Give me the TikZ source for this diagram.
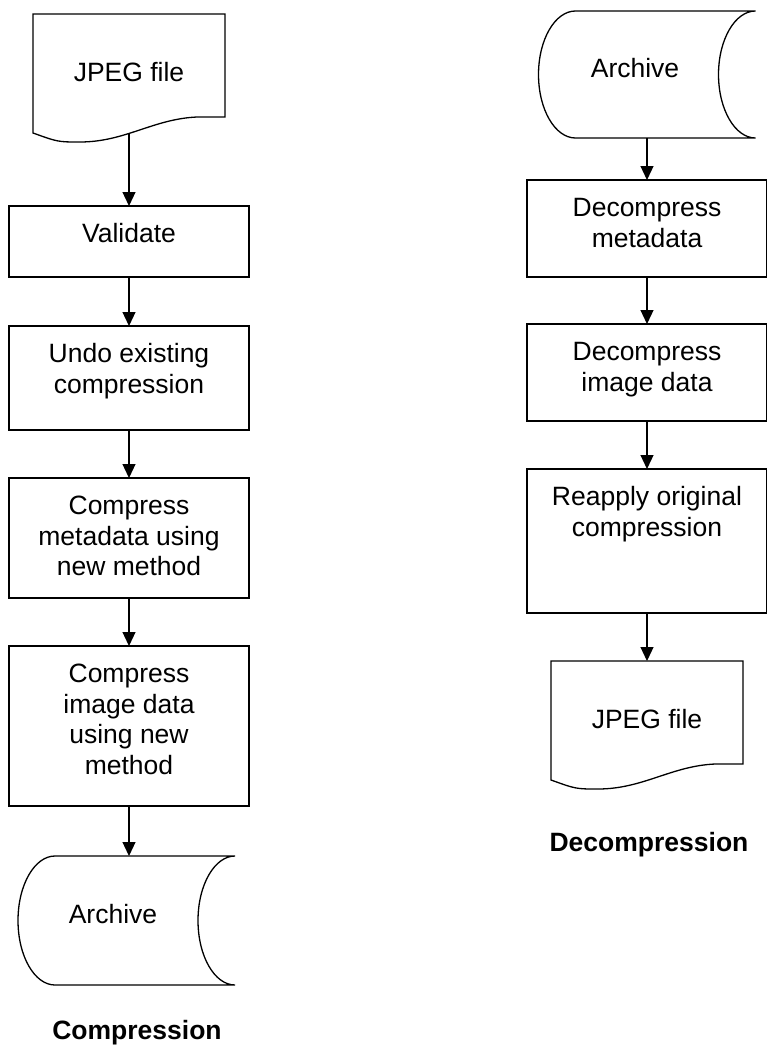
\documentclass[tikz,border=0pt]{standalone}
\usepackage{fontspec}
\setmainfont{Liberation Sans}
\usetikzlibrary{arrows.meta,calc}
\newcommand{\docpath}[1]{%
  \draw (#1.north west) -- (#1.north east) -- ($(#1.north west)+(192,103)$)
    -- ($(#1.north west)+(164,103)$)
    .. controls ($(#1.north west)+(120,105)$) and ($(#1.north west)+(92,128)$) .. ($(#1.north west)+(47,128)$)
    .. controls ($(#1.north west)+(25,128)$) .. ($(#1.north west)+(0,119)$) -- cycle;}
\newcommand{\archpath}[2]{%
  \draw ($(#1.north west)+(37,0)$) arc[start angle=90, end angle=270, x radius=37pt, y radius=#2pt]
    -- (#1.south east) arc[start angle=270, end angle=90, x radius=37pt, y radius=#2pt] -- cycle;}
\begin{document}
\begin{tikzpicture}[x=1pt,y=-1pt,
  line width=1.3pt,
  every node/.style={inner sep=0pt, outer sep=0pt},
  stepbox/.style={draw, rectangle, minimum width=240pt},
  shapebox/.style={rectangle, draw=none},
  txt/.style={font=\fontsize{26.5}{30.5}\selectfont, align=center, anchor=base},
  ttl/.style={font=\fontsize{26.5}{30.5}\selectfont\bfseries, anchor=base},
  arr/.style={-{Triangle[width=13pt,length=14pt]}, line width=1.2pt}
]
\useasboundingbox (0,0) rectangle (766,1046);

% ---------- Compression ----------
\node[shapebox, minimum width=192pt, minimum height=119pt] (doc1) at (129,73.5) {};
\docpath{doc1}
\node[txt] (doc1t) at (129,81.5) {JPEG file};

\node[stepbox, minimum height=71pt] (val) at (129,241.5) {};
\node[txt] (valt) at (129,242.5) {Validate};

\node[stepbox, minimum height=104pt] (undo) at (129,378) {};
\node[txt] (undot) at (129,393) {Undo existing\\compression};

\node[stepbox, minimum height=120pt] (cmeta) at (129,538) {};
\node[txt] (cmetat) at (129,575.5) {Compress\\metadata using\\new method};

\node[stepbox, minimum height=160pt] (cimg) at (129,726) {};
\node[txt] (cimgt) at (129,774) {Compress\\image data\\using new\\method};

\node[shapebox, minimum width=217pt, minimum height=129pt] (arch1) at (126.5,920.5) {};
\archpath{arch1}{64.5}
\node[txt] (arch1t) at (113,923.5) {Archive};

\node[ttl] (comp) at (137,1039) {Compression};

\draw[arr] (doc1.south) -- (val.north);
\draw[arr] (val.south) -- (undo.north);
\draw[arr] (undo.south) -- (cmeta.north);
\draw[arr] (cmeta.south) -- (cimg.north);
\draw[arr] (cimg.south) -- (cimg.south |- arch1.north);

% ---------- Decompression ----------
\node[shapebox, minimum width=217pt, minimum height=127pt] (arch2) at (647,74.5) {};
\archpath{arch2}{63.5}
\node[txt] (arch2t) at (635,77.5) {Archive};

\node[stepbox, minimum height=97pt] (dmeta) at (647,228.5) {};
\node[txt] (dmetat) at (647,247) {Decompress\\metadata};

\node[stepbox, minimum height=97pt] (dimg) at (647,372.5) {};
\node[txt] (dimgt) at (647,391) {Decompress\\image data};

\node[stepbox, minimum height=144pt] (reap) at (647,541) {};
\node[txt] (reapt) at (647,536) {Reapply original\\compression};

\node[shapebox, minimum width=192pt, minimum height=119pt] (doc2) at (647,720.5) {};
\docpath{doc2}
\node[txt] (doc2t) at (647,728.5) {JPEG file};

\node[ttl] (decomp) at (649,851) {Decompression};

\draw[arr] (arch2.south) -- (dmeta.north);
\draw[arr] (dmeta.south) -- (dimg.north);
\draw[arr] (dimg.south) -- (reap.north);
\draw[arr] (reap.south) -- (doc2.north);
\end{tikzpicture}
\end{document}
